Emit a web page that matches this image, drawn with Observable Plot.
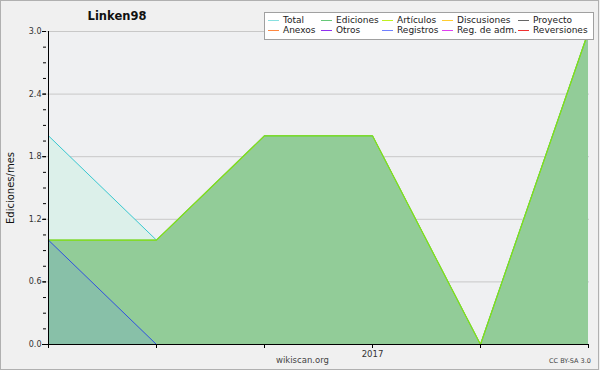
<!DOCTYPE html>
<html><head><meta charset="utf-8">
<script src="https://cdn.jsdelivr.net/npm/d3@7"></script>
<script src="https://cdn.jsdelivr.net/npm/@observablehq/plot@0.6"></script>
<style>
html,body{margin:0;padding:0;background:#f0f0f0;}
#wrap{position:relative;width:600px;height:370px;font-family:"DejaVu Sans",sans-serif;}
#border{position:absolute;left:0;top:0;width:597px;height:368px;border:1px solid #b0b0b0;pointer-events:none;}
#title{position:absolute;left:0;width:234px;top:9px;text-align:center;font-weight:bold;font-size:11.5px;color:#111;}
#legend{position:absolute;left:264px;top:12px;width:328px;height:26px;background:#fff;border:1px solid #a0a0a0;font-size:9px;color:#222;}
.li{position:absolute;white-space:nowrap;line-height:10px;}
.li span{display:inline-block;width:11px;height:1px;vertical-align:middle;margin-right:4px;}
#ylab{position:absolute;left:10px;top:188px;transform:translate(-50%,-50%) rotate(-90deg);font-size:10px;color:#111;white-space:nowrap;}
#site{position:absolute;left:276px;top:355px;font-size:8.5px;color:#444;}
#cc{position:absolute;left:549px;top:357px;font-size:6.5px;color:#444;}
</style></head>
<body><div id="wrap"></div>
<script>
const months = ["2016-10","2016-11","2016-12","2017-01","2017-02","2017-03"];
const total = [2,1,2,2,0,3];
const ediciones = [1,1,2,2,0,3];
const articulos = [1,1,2,2,0,3];
const registros = [1,0,0,0,0,0];
const yMajor = [0,0.6,1.2,1.8,2.4,3.0];
const yMinor = d3.range(0,3.0001,0.15);
const legendNames = ["Total","Ediciones","Artículos","Discusiones","Proyecto","Anexos","Otros","Registros","Reg. de adm.","Reversiones"];
const legendColors = ["#88e0e0","#66c878","#c0f020","#ffcc30","#666666","#ff8840","#9030f0","#7080ff","#e040f0","#f03030"];

const rows = (vals) => months.map((m,i)=>({m, v: vals[i]}));

const chart = Plot.plot({
  width:600, height:370,
  marginLeft:46, marginRight:11, marginTop:31, marginBottom:26,
  style:{background:"transparent", fontFamily:"DejaVu Sans", fontSize:"8px", color:"#333"},
  x:{type:"point", domain:months, padding:0, axis:null, label:null},
  y:{domain:[0,3], axis:null, label:null},
  marks:[
    Plot.frame({fill:"#eff0f2", stroke:null}),
    Plot.gridY(yMajor,{stroke:"#c8c8c8", strokeOpacity:1}),
    Plot.areaY(rows(total),{x:"m", y:"v", fill:"#dcf0ea"}),
    Plot.areaY(rows(ediciones),{x:"m", y:"v", fill:"#92cc98"}),
    Plot.areaY(rows(registros),{x:"m", y:"v", fill:"#88c0a8"}),
    Plot.lineY(rows(total),{x:"m", y:"v", stroke:"#38c8d0", strokeWidth:1}),
    Plot.lineY(rows(ediciones),{x:"m", y:"v", stroke:"#66c878", strokeWidth:1}),
    Plot.lineY(rows(articulos),{x:"m", y:"v", stroke:"#88e010", strokeWidth:1.2}),
    Plot.lineY(rows(registros),{x:"m", y:"v", stroke:"#3050e0", strokeWidth:1}),
    Plot.axisY(yMinor,{tickSize:3, text:null, stroke:"#000", label:null}),
    Plot.axisY(yMajor,{tickSize:4, tickPadding:1, stroke:"#000", tickFormat:d=>d.toFixed(1), fill:"#333", fontSize:8, label:null}),
    Plot.axisX(months,{tickSize:4, tickPadding:2, stroke:"#000", tickFormat:d=>d==="2017-01"?"2017":"", fill:"#333", fontSize:8.5, label:null}),
    Plot.ruleX([months[0]],{stroke:"#000"}),
    Plot.ruleY([0],{stroke:"#000"})
  ]
});
const wrap = document.getElementById("wrap");
wrap.appendChild(chart);
chart.style.position="absolute"; chart.style.left="0"; chart.style.top="0";

function add(id, text){const d=document.createElement("div"); d.id=id; d.textContent=text; wrap.appendChild(d); return d;}
add("title","Linken98");
add("ylab","Ediciones/mes");
add("site","wikiscan.org");
add("cc","CC BY-SA 3.0");
const leg = document.createElement("div"); leg.id="legend"; wrap.appendChild(leg);
const colX = [3,56,117,177,253];
legendNames.forEach((n,i)=>{
  const d=document.createElement("div"); d.className="li";
  d.style.left=colX[i%5]+"px"; d.style.top=(i<5?2:12)+"px";
  const s=document.createElement("span"); s.style.background=legendColors[i];
  d.appendChild(s); d.appendChild(document.createTextNode(n));
  leg.appendChild(d);
});
const b=document.createElement("div"); b.id="border"; wrap.appendChild(b);
</script></body></html>
